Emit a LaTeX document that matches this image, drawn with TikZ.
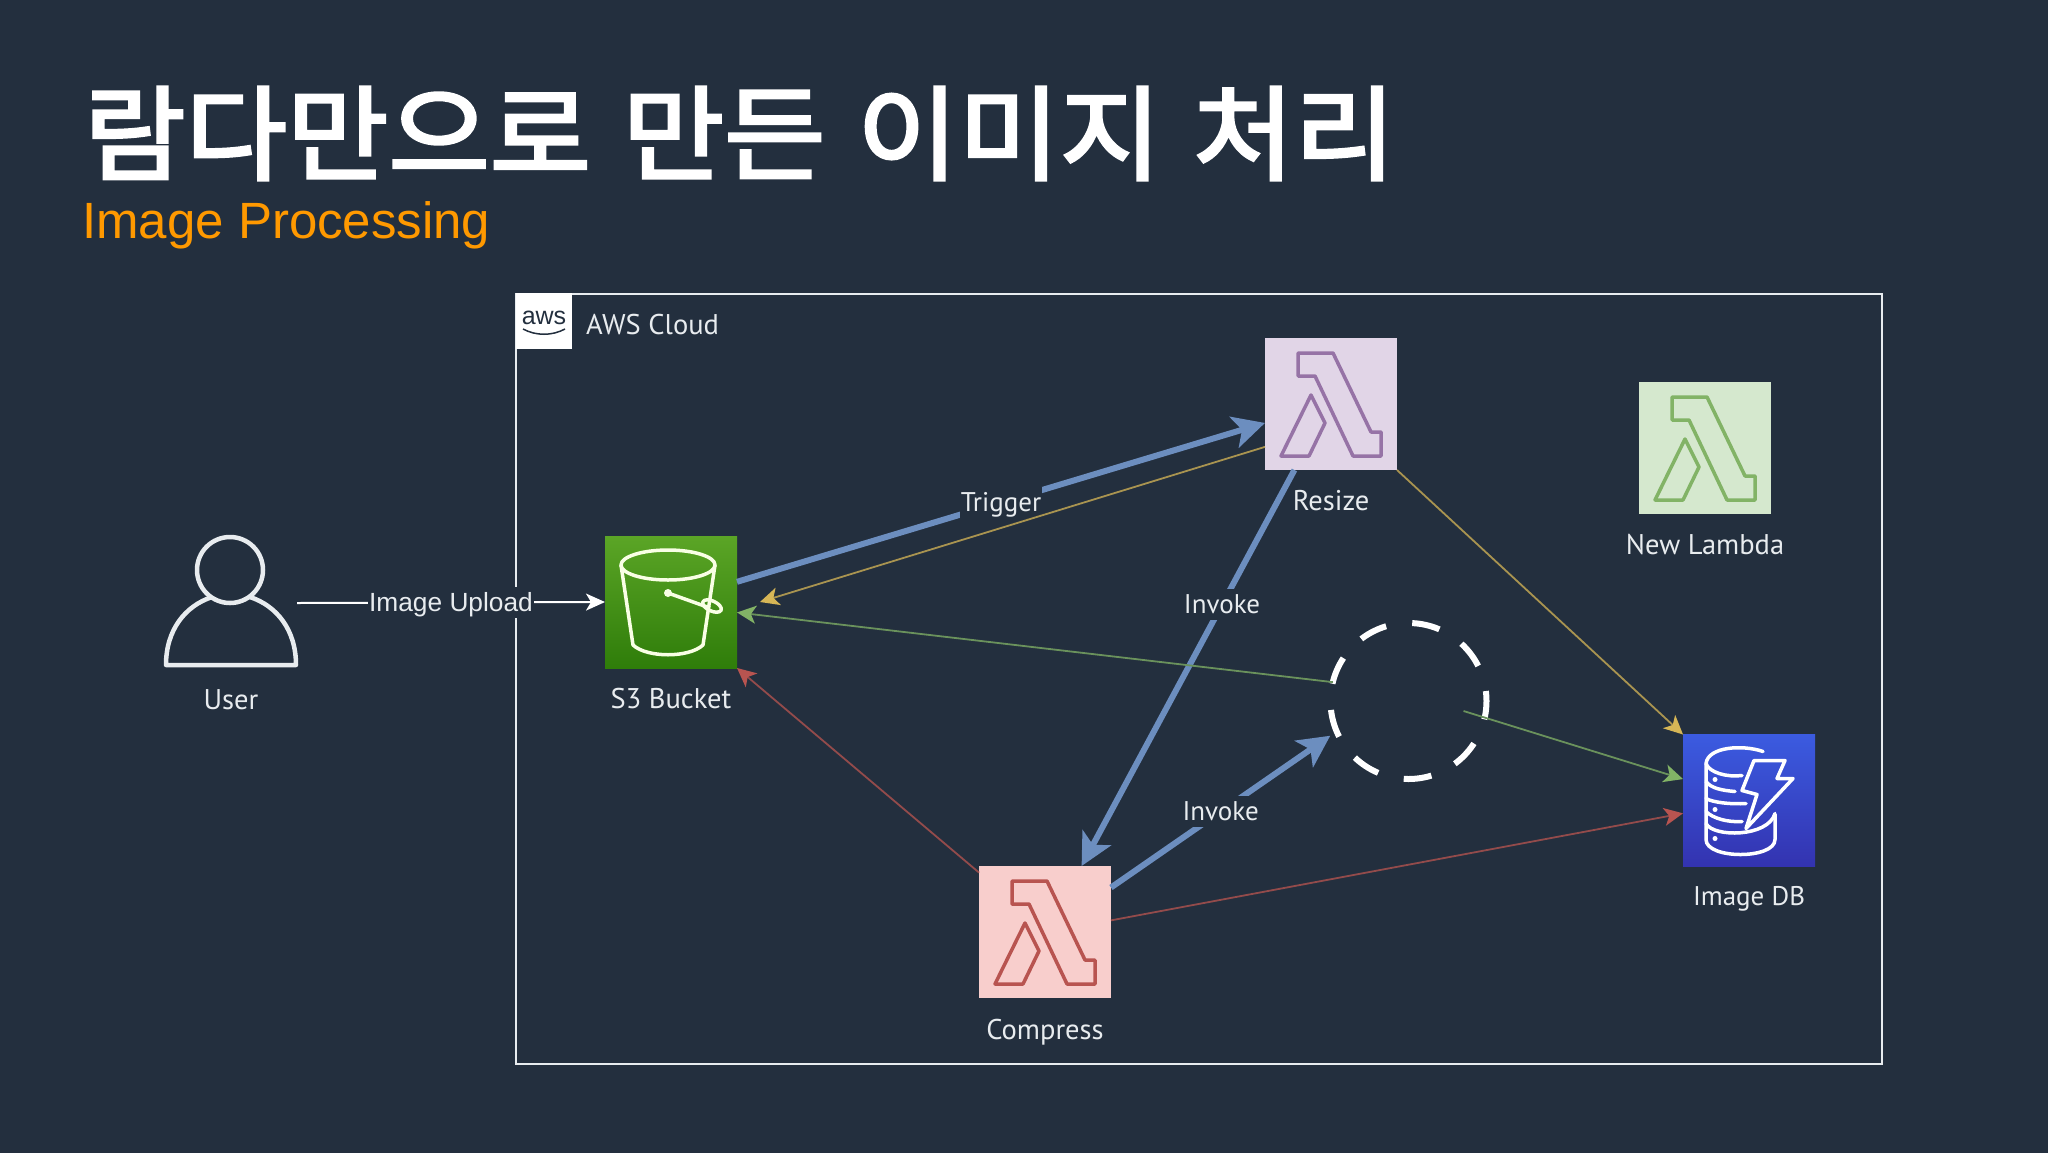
\documentclass[tikz,border=0pt]{standalone}
\usepackage{fontspec}
\setmainfont{PT Sans}
\newfontfamily\titlefont[FakeBold=3,FakeStretch=1.07,WordSpace=1.28]{Noto Sans CJK KR}
\newfontfamily\arialfont{Liberation Sans}
\usepackage{xcolor}
\usepackage{tikz}
\usetikzlibrary{arrows.meta}
\definecolor{slidebg}{HTML}{232F3E}
\definecolor{softwhite}{HTML}{E8ECEF}
\definecolor{subtitleorange}{HTML}{FF9900}
\definecolor{edgeblue}{HTML}{6C8EBF}
\definecolor{edgeyellow}{HTML}{D6B656}
\definecolor{edgegreen}{HTML}{82B366}
\definecolor{edgered}{HTML}{B85450}
\definecolor{resizefill}{HTML}{E1D5E7}
\definecolor{resizeline}{HTML}{9673A6}
\definecolor{newfill}{HTML}{D5E8CE}
\definecolor{comprfill}{HTML}{F8CECC}
\definecolor{s3top}{HTML}{5BA526}
\definecolor{s3bottom}{HTML}{2F7D0A}
\definecolor{dbtop}{HTML}{3B5BE0}
\definecolor{dbbottom}{HTML}{3333B0}
\tikzset{
    iconbox/.style={minimum size=132pt,inner sep=0pt,outer sep=0pt},
    iconlabel/.style={text=softwhite,text height=18.5pt,text depth=0pt,inner sep=0pt,font=\fontsize{28.5}{32}\selectfont},
    edgelabel/.style={fill=slidebg,text=softwhite,text height=18.5pt,text depth=0pt,inner xsep=1pt,inner ysep=6pt,font=\fontsize{27}{32}\selectfont},
    thinedge/.style={line width=1.8pt,draw=#1!75!slidebg,-{Stealth[length=19pt,width=18pt,inset=5pt,color=#1]}},
    uploadedge/.style={line width=2pt,white,-{Stealth[length=19pt,width=17pt,inset=5pt]}},
    thickedge/.style={line width=6pt,edgeblue,-{Stealth[length=32pt,width=32pt,inset=8pt]}},
}
\newcommand{\lambdamark}[2]{%
    \begin{scope}[shift={(#1.north west)},draw=#2,line width=3.5pt,line join=round]
        \draw (33,15) -- (68,15) -- (106,94) -- (116,94) -- (116,118) -- (88,118) -- (50,38) -- (33,38) -- cycle;
        \draw (46,57) -- (60,85) -- (44,118) -- (16,118) -- cycle;
    \end{scope}%
}

\begin{document}
\begin{tikzpicture}[x=1pt,y=-1pt]
    \useasboundingbox (0,0) rectangle (2048,1152);
    \fill[slidebg] (-3,-3) rectangle (2051,1155);

    \node (maintitle) [anchor=base west,inner sep=0pt,text=white,font=\titlefont\fontsize{103}{120}\selectfont] at (84,172) {람다만으로 만든 이미지 처리};
    \node (subtitle) [anchor=base west,inner sep=0pt,text=subtitleorange,font=\arialfont\fontsize{51}{60}\selectfont] at (82,238) {Image Processing};

    \draw[softwhite,line width=2.5pt] (516,294) rectangle (1882,1064);
    \node (awslogo) [fill=white,minimum size=56pt,inner sep=0pt,outer sep=0pt,text=slidebg,font=\arialfont\fontsize{25}{25}\selectfont,text depth=8pt,text height=14pt] at (544,321) {aws};
    \draw[slidebg,line width=1.5pt] ([shift={(-21,8)}]awslogo.center) .. controls ([shift={(-8,15)}]awslogo.center) and ([shift={(8,15)}]awslogo.center) .. ([shift={(21,8)}]awslogo.center);
    \node (cloudlabel) [iconlabel,anchor=west] at (586,325) {AWS Cloud};

    \node (user) [iconbox] at (231,603) {};
    \draw[softwhite,line width=4.5pt,line join=round] (230,570) circle [radius=33pt];
    \draw[softwhite,line width=4.5pt,line join=round] (212,597) .. controls (185,606) and (166,630) .. (166,665) -- (296,665) .. controls (296,630) and (277,606) .. (250,597);
    \node (userlabel) [iconlabel] at (231,700) {User};

    \node (s3) [iconbox,top color=s3top,bottom color=s3bottom] at (671,602) {};
    \begin{scope}[shift={(s3.north west)},draw=white!90!lime,line width=3.5pt,line join=round]
        \draw (63,29) ellipse [x radius=47pt,y radius=15pt];
        \draw (16,29) -- (28,109) .. controls (42,122) and (84,122) .. (98,109) -- (110,29);
        \fill[white!90!lime] (63,57) circle [radius=4pt];
        \draw (63,57) -- (105,72);
        \draw[rotate around={-25:(107,70)}] (107,70) ellipse [x radius=10pt,y radius=5pt];
    \end{scope}
    \node (s3label) [iconlabel] at (671,699) {S3 Bucket};

    \node (resize) [iconbox,fill=resizefill] at (1331,404) {};
    \lambdamark{resize}{resizeline}
    \node (resizelabel) [iconlabel] at (1331,501) {Resize};

    \node (newlambda) [iconbox,fill=newfill] at (1705,448) {};
    \lambdamark{newlambda}{edgegreen}
    \node (newlambdalabel) [iconlabel] at (1705,545) {New Lambda};

    \node (compress) [iconbox,fill=comprfill] at (1045,932) {};
    \lambdamark{compress}{edgered}
    \node (compresslabel) [iconlabel] at (1045,1030) {Compress};

    \node (imagedb) [iconbox,top color=dbtop,bottom color=dbbottom] at (1749,800.5) {};
    \begin{scope}[shift={(imagedb.north west)},draw=white,line width=3.5pt,line join=round,line cap=round]
        \draw (80,17) .. controls (60,10) and (25,12) .. (23,29) -- (23,105) .. controls (23,125) and (92,125) .. (92,105) -- (92,80);
        \draw (23,29) .. controls (26,38) and (44,43) .. (59,41);
        \draw (23,47) .. controls (28,54) and (40,56) .. (52,57);
        \draw (23,64) .. controls (30,68) and (48,70) .. (63,69);
        \draw (23,77) .. controls (30,84) and (45,88) .. (59,87);
        \draw (23,89) .. controls (30,103) and (85,103) .. (92,79);
        \draw (71,26) -- (102,26) -- (94,44) -- (110,44) -- (63,94) -- (74,60) -- (59,56) -- cycle;
        \fill[white] (32,45) circle [radius=2.5pt];
        \fill[white] (32,75) circle [radius=2.5pt];
        \fill[white] (32,104) circle [radius=2.5pt];
    \end{scope}
    \node (imagedblabel) [iconlabel,font=\fontsize{27}{32}\selectfont] at (1749,896) {Image DB};

    \node (placeholder) [circle,draw=white,line width=6pt,minimum size=156pt,inner sep=0pt,outer sep=0pt,dash pattern=on 28pt off 26.4pt,dash phase=18pt] at (1408.5,701) {};

    \draw[uploadedge] (user.east) -- node (uploadlabel) [edgelabel,font=\arialfont\fontsize{26.3}{30}\selectfont] {Image Upload} (s3.west);

    \draw[thickedge] (s3.17) -- node (triggerlabel) [edgelabel,pos=.5] {Trigger} (resize.196);
    \draw[thickedge] (resize.241) -- node (invokeone) [edgelabel,pos=.34] {Invoke} (compress.61);
    \draw[thickedge] (compress.34) -- node (invoketwo) [edgelabel,pos=.5] {Invoke} ([xshift=-7pt,yshift=-3pt]placeholder.204);

    \draw[thinedge=edgeyellow] (resize.213) -- ([xshift=23pt]s3.east);
    \draw[thinedge=edgeyellow] (resize.south east) -- (imagedb.north west);
    \draw[thinedge=edgegreen] (placeholder.166) -- (s3.-9);
    \draw[thinedge=edgegreen] ([xshift=55pt,yshift=-10pt]placeholder.center) -- (imagedb.162);
    \draw[thinedge=edgered] (compress.138) -- (s3.south east);
    \draw[thinedge=edgered] (compress.10) -- (imagedb.191);
\end{tikzpicture}
\end{document}
